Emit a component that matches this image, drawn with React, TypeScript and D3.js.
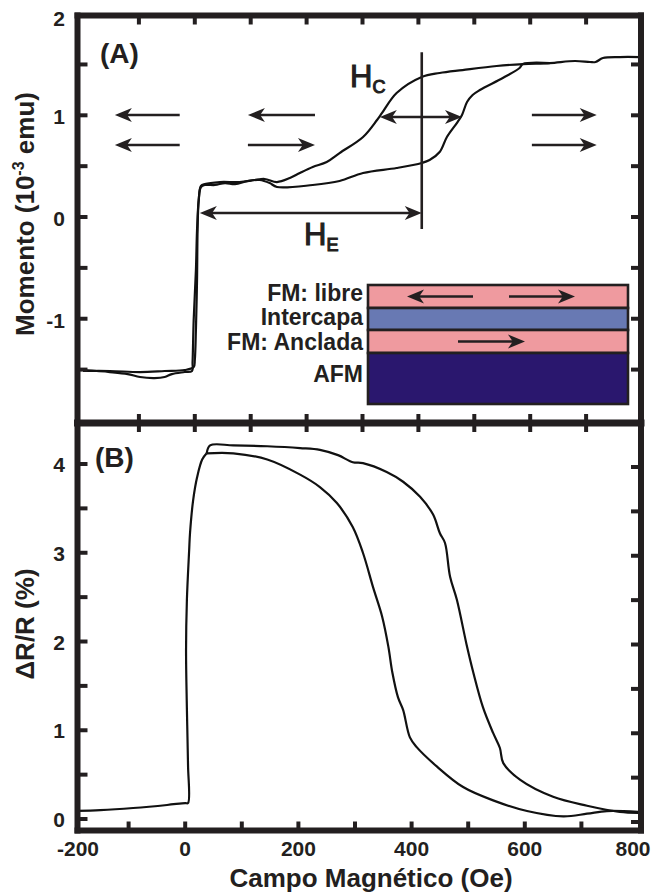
import React from 'react';
import * as d3 from 'd3';

type P = [number, number];

// ---------- DATA ----------
// Panel A ticks / labels (Oe, 10^-3 emu)
const xTickVals = [-100, 0, 100, 200, 300, 400, 500, 600, 700];
const xTickLabels = [-200, 0, 200, 400, 600, 800];
const yTicksA = [-1.5, -1, -0.5, 0, 0.5, 1, 1.5];
const yLabelsA = [-1, 0, 1, 2];
const yTicksB = [0, 0.5, 1, 1.5, 2, 2.5, 3, 3.5, 4];
const yLabelsB = [0, 1, 2, 3, 4];

// Hysteresis loop, descending branch (Oe, moment)
const momentDown: P[] = [
  [796, 1.573], [760, 1.573], [730, 1.563], [717, 1.524], [707, 1.524], [680, 1.534],
  [635, 1.514], [587, 1.504], [540, 1.485], [479, 1.445], [438, 1.416], [406, 1.377],
  [361, 1.219], [335, 1.023], [326, 0.954], [301, 0.787], [259, 0.629], [236, 0.541],
  [211, 0.492], [188, 0.433], [170, 0.383], [147, 0.344], [125, 0.374], [107, 0.364],
  [80, 0.344], [45, 0.344], [18, 0.324], [11, 0.305], [7, 0.167], [5, -0.128],
  [4, -0.619], [2, -1.111], [0, -1.406], [-2, -1.475], [-18, -1.504], [-54, -1.514],
  [-98, -1.524], [-152, -1.514], [-200, -1.514],
];
// Hysteresis loop, ascending branch
const momentUp: P[] = [
  [-200, -1.504], [-152, -1.524], [-120, -1.544], [-98, -1.573], [-72, -1.583],
  [-54, -1.573], [-41, -1.544], [-18, -1.524], [-5, -1.514], [-4, -1.426], [-2, -1.013],
  [2, -0.521], [4, -0.128], [7, 0.167], [11, 0.295], [18, 0.315], [36, 0.315],
  [54, 0.334], [72, 0.324], [95, 0.354], [116, 0.364], [134, 0.334], [147, 0.295],
  [211, 0.315], [259, 0.354], [301, 0.433], [361, 0.482], [406, 0.531], [420, 0.56],
  [438, 0.639], [451, 0.787], [470, 0.934], [478, 1.003], [487, 1.131], [497, 1.2],
  [510, 1.249], [551, 1.367], [581, 1.465], [587, 1.504], [635, 1.514],
];

// Magnetoresistance (Oe, %)
const mrRise: P[] = [
  [-200, 0.09], [-150, 0.1], [-92, 0.124], [-32, 0.158], [0, 0.18], [5, 0.18],
  [5, 0.61], [3, 1.24], [1.5, 1.9], [3, 2.47], [7, 3.03], [8.5, 3.22], [14, 3.59],
  [21, 3.85], [30, 4.05], [38, 4.12],
];
const mrUpper: P[] = [
  [38, 4.12], [44, 4.21], [85, 4.21], [145, 4.2], [203, 4.18], [238, 4.16], [270, 4.1],
  [296, 4.02], [314, 4.01], [356, 3.91], [385, 3.8], [415, 3.63], [438, 3.43], [450, 3.22],
  [459, 3.11], [468, 2.73], [480, 2.47], [498, 1.94], [509, 1.65], [526, 1.26], [544, 0.97],
  [556, 0.8], [562, 0.63], [592, 0.44], [650, 0.25], [710, 0.15], [768, 0.08], [800, 0.07],
];
const mrLower: P[] = [
  [38, 4.12], [85, 4.12], [145, 4.05], [203, 3.88], [238, 3.74], [268, 3.56], [296, 3.29],
  [314, 3.0], [332, 2.61], [348, 2.28], [359, 1.94], [366, 1.65], [376, 1.37], [385, 1.23],
  [397, 0.92], [409, 0.81], [445, 0.59], [491, 0.36], [544, 0.21], [604, 0.09], [668, 0.03],
  [710, 0.06], [745, 0.09], [800, 0.08],
];

// Direction arrows in panel A (from, to = tip, moment level)
const dirArrows = [
  { from: -27, to: -143, m: 1.003 },
  { from: -27, to: -143, m: 0.708 },
  { from: 215, to: 95, m: 1.003 },
  { from: 95, to: 215, m: 0.708 },
  { from: 603, to: 719, m: 1.003 },
  { from: 603, to: 719, m: 0.708 },
];
const hcArrow = { a: 331, b: 478, m: 0.983 };
const heArrow = { a: 9, b: 406, m: 0.04 };
const markerLine = { x: 406, m1: 1.62, m2: -0.118 };

const insetLayers = [
  { name: 'FM: libre', color: '#EF9A9F', h: 23 },
  { name: 'Intercapa', color: '#6879B3', h: 22 },
  { name: 'FM: Anclada', color: '#EF9A9F', h: 23 },
  { name: 'AFM', color: '#2A176E', h: 51 },
];

const FONT = "'Liberation Sans', Arial, Helvetica, sans-serif";
const INK = '#231F20';

function arrowHead(tx: number, ty: number, dir: number, L = 17, W = 7) {
  const pts = [
    [tx, ty],
    [tx - dir * L, ty - W],
    [tx - dir * L * 0.72, ty],
    [tx - dir * L, ty + W],
  ];
  return pts.map((p) => p.join(',')).join(' ');
}

function Arrow({ x1, x2, y, both = false }: { x1: number; x2: number; y: number; both?: boolean }) {
  const dir = x2 > x1 ? 1 : -1;
  return (
    <g>
      <line x1={x1 + (both ? dir * 10 : 0)} x2={x2 - dir * 10} y1={y} y2={y} stroke={INK} strokeWidth={2.6} />
      <polygon points={arrowHead(x2, y, dir)} fill={INK} />
      {both && <polygon points={arrowHead(x1, y, -dir)} fill={INK} />}
    </g>
  );
}

export default function App() {
  const W = 653, H = 894;
  const L = 77.5, R = 641, TOP = 15.5, MID = 423, BOT = 830.5;
  const xA = d3.scaleLinear().domain([-200, 800]).range([83, 642]);
  const xB = d3.scaleLinear().domain([-200, 800]).range([72, 638]);
  const yA = d3.scaleLinear().domain([-2.03, 2]).range([423.5, 13.6]);
  const yB = d3.scaleLinear().domain([-0.135, 4.462]).range([831, 423]);

  const lineA = d3.line<P>().x((d) => xA(d[0])).y((d) => yA(d[1])).curve(d3.curveCatmullRom.alpha(0.5));
  const lineB = d3.line<P>().x((d) => xB(d[0])).y((d) => yB(d[1])).curve(d3.curveCatmullRom.alpha(0.5));

  const tk = 9;
  const insetX0 = 368, insetX1 = 628, insetY0 = 285;
  let acc = insetY0;
  const layers = insetLayers.map((l) => {
    const r = { ...l, y: acc };
    acc += l.h;
    return r;
  });
  const labelBase = [301, 325, 350, 382];

  return (
    <svg width={W} height={H} style={{ position: 'absolute', left: 0, top: 0, background: '#fff' }} fontFamily={FONT}>
      <defs>
        <clipPath id="clipA"><rect x={L} y={TOP} width={R - L} height={MID - TOP} /></clipPath>
        <clipPath id="clipB"><rect x={L} y={MID} width={R - L} height={BOT - MID} /></clipPath>
      </defs>
      <rect x={0} y={0} width={W} height={H} fill="#fff" />

      {/* Panel A curves */}
      <g clipPath="url(#clipA)" fill="none" stroke="#111" strokeWidth={2.2} strokeLinejoin="round">
        <path d={lineA(momentDown) || ''} />
        <path d={lineA(momentUp) || ''} />
      </g>
      {/* Panel B curves */}
      <g clipPath="url(#clipB)" fill="none" stroke="#111" strokeWidth={2.2} strokeLinejoin="round">
        <path d={lineB(mrRise) || ''} />
        <path d={lineB(mrUpper) || ''} />
        <path d={lineB(mrLower) || ''} />
      </g>

      {/* Panel A annotations */}
      {dirArrows.map((a, i) => (
        <Arrow key={i} x1={xA(a.from)} x2={xA(a.to)} y={yA(a.m)} />
      ))}
      <Arrow x1={xA(hcArrow.a)} x2={xA(hcArrow.b)} y={yA(hcArrow.m)} both />
      <Arrow x1={xA(heArrow.a)} x2={xA(heArrow.b)} y={yA(heArrow.m)} both />
      <line x1={xA(markerLine.x)} x2={xA(markerLine.x)} y1={yA(markerLine.m1)} y2={yA(markerLine.m2)} stroke={INK} strokeWidth={2.6} />
      <text x={350} y={87} fontSize={31} fill={INK} stroke={INK} strokeWidth={1.1}>
        H<tspan fontSize={18} dy={6}>C</tspan>
      </text>
      <text x={304} y={245} fontSize={31} fill={INK} stroke={INK} strokeWidth={1.1}>
        H<tspan fontSize={18} dy={6}>E</tspan>
      </text>

      {/* Inset */}
      <g>
        {layers.map((l, i) => (
          <rect key={i} x={insetX0} y={l.y} width={insetX1 - insetX0} height={l.h} fill={l.color} stroke={INK} strokeWidth={2.6} />
        ))}
        {layers.map((l, i) => (
          <text key={'t' + i} x={363} y={labelBase[i]} textAnchor="end" fontSize={23} fontWeight="bold" fill={INK}>
            {l.name}
          </text>
        ))}
        <Arrow x1={insetX0 + 105} x2={insetX0 + 39} y={layers[0].y + layers[0].h / 2} />
        <Arrow x1={insetX0 + 141} x2={insetX0 + 207} y={layers[0].y + layers[0].h / 2} />
        <Arrow x1={insetX0 + 90} x2={insetX0 + 157} y={layers[2].y + layers[2].h / 2} />
      </g>

      {/* Ticks */}
      <g stroke={INK} strokeWidth={4}>
        {xTickVals.map((v) => (
          <g key={'xa' + v}>
            <line x1={xA(v)} x2={xA(v)} y1={TOP} y2={TOP + tk} />
            <line x1={xA(v)} x2={xA(v)} y1={MID - tk} y2={MID + tk} />
            <line x1={xB(v)} x2={xB(v)} y1={BOT} y2={BOT - tk} />
          </g>
        ))}
        {yTicksA.map((v) => (
          <g key={'ya' + v}>
            <line x1={L} x2={L + tk + 1} y1={yA(v)} y2={yA(v)} />
            <line x1={R} x2={R - tk - 1} y1={yA(v)} y2={yA(v)} />
          </g>
        ))}
        {yTicksB.map((v) => (
          <g key={'yb' + v}>
            <line x1={L} x2={L + tk + 1} y1={yB(v)} y2={yB(v)} />
            <line x1={R} x2={R - tk - 1} y1={yB(v) + 3} y2={yB(v) + 3} />
          </g>
        ))}
      </g>

      {/* Frame */}
      <g stroke={INK} strokeLinecap="square">
        <line x1={L} x2={L} y1={TOP} y2={BOT} strokeWidth={6} />
        <line x1={R} x2={R} y1={TOP} y2={BOT} strokeWidth={6} />
        <line x1={L} x2={R} y1={TOP} y2={TOP} strokeWidth={6} />
        <line x1={L} x2={R} y1={MID} y2={MID} strokeWidth={7} />
        <line x1={L} x2={R} y1={BOT} y2={BOT} strokeWidth={6} />
      </g>

      {/* Tick labels */}
      <g fontSize={21} fontWeight="bold" fill={INK}>
        {yLabelsA.map((v) => (
          <text key={'la' + v} x={65} y={Math.max(yA(v), 17) + 9} textAnchor="end">
            {v}
          </text>
        ))}
        {yLabelsB.map((v) => (
          <text key={'lb' + v} x={65} y={yB(v) + 8} textAnchor="end">
            {v}
          </text>
        ))}
        {xTickLabels.map((v) => (
          <text key={'lx' + v} x={Math.min(Math.max(xB(v), 78), 633)} y={856} textAnchor="middle">
            {v}
          </text>
        ))}
      </g>

      {/* Panel labels */}
      <text x={100} y={63} fontSize={28} fontWeight="bold" fill={INK}>(A)</text>
      <text x={95} y={467} fontSize={28} fontWeight="bold" fill={INK}>(B)</text>

      {/* Axis titles */}
      <text x={371} y={887} textAnchor="middle" fontSize={26} fontWeight="bold" fill={INK}>
        Campo Magnético (Oe)
      </text>
      <text transform="translate(34,214) rotate(-90)" textAnchor="middle" fontSize={26} fontWeight="bold" fill={INK}>
        Momento (10<tspan fontSize={16} dy={-10}>-3</tspan>
        <tspan dy={10}> emu)</tspan>
      </text>
      <text transform="translate(34,624) rotate(-90)" textAnchor="middle" fontSize={26} fontWeight="bold" fill={INK}>
        ΔR/R (%)
      </text>
    </svg>
  );
}
